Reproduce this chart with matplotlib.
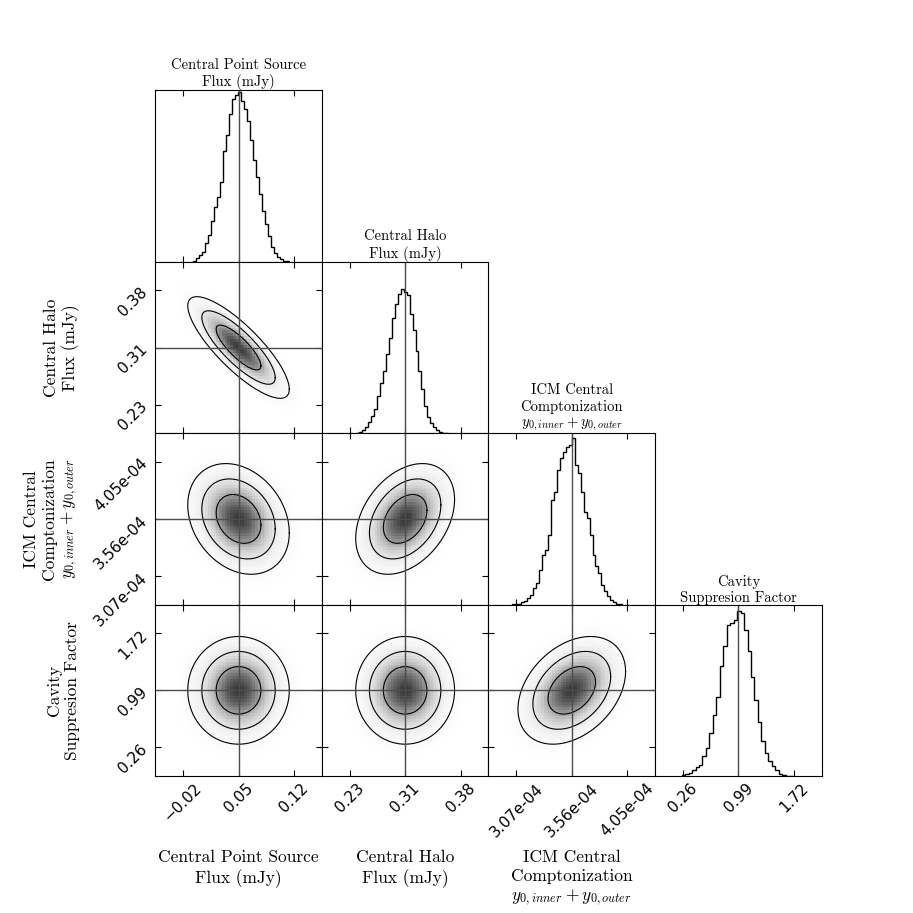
import numpy as np
import matplotlib.pyplot as plt
from matplotlib.colors import PowerNorm

plt.rcParams['mathtext.fontset'] = 'cm'

# parameter names (diagonal titles / outer axis labels)
names = ["Central Point Source\nFlux (mJy)",
         "Central Halo\nFlux (mJy)",
         "ICM Central\nComptonization\n$y_{0,inner}+y_{0,outer}$",
         "Cavity\nSuppresion Factor"]

# truth lines and tick spacing
centers = [0.05, 0.305, 3.56e-4, 0.99]
tick_step = [0.07, 0.075, 0.49e-4, 0.73]
tick_labels = [["\u22120.02", "0.05", "0.12"],
               ["0.23", "0.31", "0.38"],
               ["3.07e-04", "3.56e-04", "4.05e-04"],
               ["0.26", "0.99", "1.72"]]

# widths and correlations
sigmas = [0.0186, 0.0194, 1.38e-5, 0.20]
corr = {(1, 0): -0.82, (2, 0): -0.25, (3, 0): 0.0,
        (2, 1): 0.35, (3, 1): 0.0, (3, 2): 0.35}
levels = [2.30, 6.18, 11.83]   # delta chi2 for 68 / 95 / 99.7 %

# 1D marginal histograms (relative counts)
hist0 = [0.006, 0.02, 0.04, 0.06, 0.11, 0.16, 0.24, 0.32, 0.38, 0.47, 0.65,
         0.75, 0.87, 0.96, 0.98, 1.00, 0.95, 0.90, 0.83, 0.72, 0.60, 0.50,
         0.40, 0.30, 0.22, 0.15, 0.09, 0.05, 0.03, 0.015, 0.006, 0.002]
hist1 = [0.003, 0.01, 0.02, 0.04, 0.08, 0.12, 0.17, 0.26, 0.35, 0.43, 0.55,
         0.66, 0.80, 0.90, 0.97, 1.00, 0.98, 0.96, 0.83, 0.72, 0.57, 0.43,
         0.31, 0.19, 0.11, 0.07, 0.045, 0.02, 0.01, 0.004, 0.0]
hist2 = [0.002, 0.004, 0.006, 0.014, 0.024, 0.04, 0.06, 0.10, 0.13, 0.21,
         0.30, 0.33, 0.42, 0.63, 0.68, 0.81, 0.88, 0.92, 0.95, 0.96, 1.00,
         0.84, 0.79, 0.68, 0.56, 0.52, 0.42, 0.30, 0.23, 0.19, 0.12, 0.08,
         0.05, 0.03, 0.016, 0.006, 0.002]
hist3 = [0.004, 0.01, 0.02, 0.035, 0.055, 0.07, 0.12, 0.17, 0.26, 0.37, 0.48,
         0.67, 0.79, 0.92, 0.93, 0.95, 1.00, 0.99, 0.89, 0.76, 0.60, 0.46,
         0.33, 0.21, 0.14, 0.09, 0.06, 0.035, 0.015, 0.006, 0.003, 0.001]
hists = [hist0, hist1, hist2, hist3]
hist_range = [(-0.0075, 0.1140), (0.239, 0.363), (3.03e-4, 4.007e-4), (0.244, 1.703)]
hist_peak_frac = [0.99, 0.84, 0.97, 0.96]

n = len(names)
lims = [(c - 1.5 * d, c + 1.5 * d) for c, d in zip(centers, tick_step)]
ticks = [[c - d, c, c + d] for c, d in zip(centers, tick_step)]

fig = plt.figure(figsize=(9.13, 9.13), dpi=100)
gs = fig.add_gridspec(n, n, left=0.170, right=0.900, bottom=0.150, top=0.901,
                      wspace=0, hspace=0)
line_c = '0.3'

for i in range(n):
    for j in range(i + 1):
        ax = fig.add_subplot(gs[i, j])
        ax.set_xlim(lims[j])
        ax.set_xticks(ticks[j])
        if i == j:
            counts = hists[i]
            edges = np.linspace(hist_range[i][0], hist_range[i][1], len(counts) + 1)
            ax.stairs(counts, edges, color='k', lw=1.0)
            ax.set_ylim(0, max(counts) / hist_peak_frac[i])
            ax.axvline(centers[i], color=line_c, lw=1.0)
            ax.set_yticks([])
            ax.set_title(names[i], fontsize=10.5, family='cmr10', pad=2)
            ax.tick_params(axis='x', direction='in', top=True, length=4)
        else:
            ax.set_ylim(lims[i])
            ax.set_yticks(ticks[i])
            mx, my = centers[j], centers[i]
            sx, sy = sigmas[j], sigmas[i]
            rho = corr[(i, j)]
            # gaussian density shading
            xe = np.linspace(lims[j][0], lims[j][1], 61)
            ye = np.linspace(lims[i][0], lims[i][1], 61)
            xc = 0.5 * (xe[1:] + xe[:-1])
            yc = 0.5 * (ye[1:] + ye[:-1])
            X, Y = np.meshgrid(xc, yc)
            u, v = (X - mx) / sx, (Y - my) / sy
            q = (u ** 2 - 2 * rho * u * v + v ** 2) / (1 - rho ** 2)
            z = np.exp(-0.5 * q)
            ax.pcolormesh(xe, ye, z, cmap='Greys',
                          norm=PowerNorm(gamma=0.5, vmin=0, vmax=1.5), rasterized=True)
            # confidence contours
            t = np.linspace(0, 2 * np.pi, 300)
            for lv in levels:
                k = np.sqrt(lv)
                ex = mx + k * sx * np.cos(t)
                ey = my + k * sy * (rho * np.cos(t) + np.sqrt(1 - rho ** 2) * np.sin(t))
                ax.plot(ex, ey, color='k', lw=0.8)
            ax.axvline(mx, color=line_c, lw=1.0)
            ax.axhline(my, color=line_c, lw=1.0)
            ax.tick_params(direction='in', top=True, right=True, length=4)

        ax.tick_params(labelsize=11)
        if i == n - 1:
            ax.set_xticklabels(tick_labels[j], rotation=45)
            if j < n - 1:
                ax.set_xlabel(names[j], fontsize=12.5, family='cmr10', linespacing=1.3)
                ax.xaxis.set_label_coords(0.5, -0.43)
        else:
            ax.tick_params(labelbottom=False)
        if j == 0 and i > 0:
            ax.set_yticklabels(tick_labels[i], rotation=45)
            ax.set_ylabel(names[i], fontsize=12.5, family='cmr10')
            ax.yaxis.set_label_coords(-0.45, 0.5)
        else:
            ax.tick_params(labelleft=False)

fig.savefig('out.png', dpi=100)
